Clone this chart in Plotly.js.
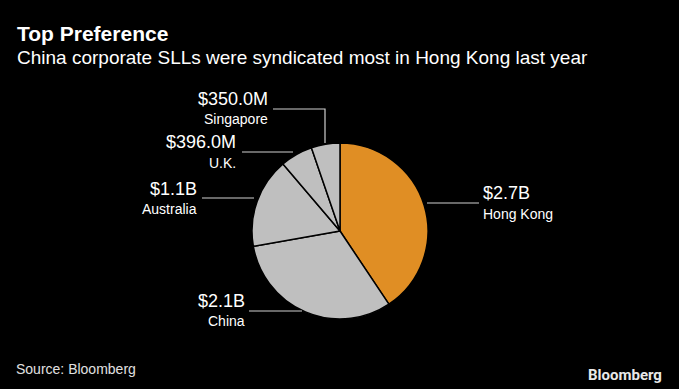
<!DOCTYPE html>
<html>
<head>
<meta charset="utf-8">
<script src="https://cdn.plot.ly/plotly-3.0.1.min.js"></script>
<style>html,body{margin:0;padding:0;background:#000;}#chart{width:679px;height:389px;}</style>
</head>
<body>
<div id="chart"></div>
<script>
const labels = ["Hong Kong", "China", "Australia", "U.K.", "Singapore"];
const values = [2.7, 2.1, 1.1, 0.396, 0.35];
const valueLabels = ["$2.7B", "$2.1B", "$1.1B", "$396.0M", "$350.0M"];
const colors = ["#E08E24", "#BFBFBF", "#BFBFBF", "#BFBFBF", "#BFBFBF"];

const W = 679, H = 389;
const FONT = "Liberation Sans, Arial, sans-serif";
const px = x => x / W;
const py = y => 1 - y / H;

const cx = 340, cy = 231, r = 88;

const labelPos = {
  "Hong Kong": {x: 481, yv: 193, yn: 214, align: "left", line: [[427,203],[479,203]]},
  "China": {x: 247, yv: 301, yn: 321, align: "right", line: [[249,311],[302,311]]},
  "Australia": {x: 199, yv: 189, yn: 209, align: "right", line: [[202,198],[254,198]]},
  "U.K.": {x: 238, yv: 142, yn: 163, align: "right", line: [[242,152],[293,152]]},
  "Singapore": {x: 270, yv: 99, yn: 119, align: "right", line: [[273,109],[325,109],[325,143]]}
};

const annotations = [];
const shapes = [];
labels.forEach((lab, i) => {
  const p = labelPos[lab];
  annotations.push({
    xref: "paper", yref: "paper", x: px(p.x), y: py(p.yv),
    xanchor: p.align, yanchor: "middle", showarrow: false,
    text: valueLabels[i], font: {family: FONT, size: 18, color: "#FFFFFF"}
  });
  annotations.push({
    xref: "paper", yref: "paper", x: px(p.x), y: py(p.yn),
    xanchor: p.align, yanchor: "middle", showarrow: false,
    text: lab, font: {family: FONT, size: 14, color: "#FFFFFF"}
  });
  const pts = p.line;
  let path = "M" + px(pts[0][0]) + "," + py(pts[0][1]);
  for (let k = 1; k < pts.length; k++) path += " L" + px(pts[k][0]) + "," + py(pts[k][1]);
  shapes.push({type: "path", xref: "paper", yref: "paper", path: path,
    line: {color: "#CFCFCF", width: 1.2}});
});

annotations.push({xref: "paper", yref: "paper", x: px(15), y: py(33), xanchor: "left", yanchor: "middle",
  showarrow: false, text: "<b>Top Preference</b>", font: {family: FONT, size: 21, color: "#FFFFFF"}});
annotations.push({xref: "paper", yref: "paper", x: px(15), y: py(57), xanchor: "left", yanchor: "middle",
  showarrow: false, text: "China corporate SLLs were syndicated most in Hong Kong last year",
  font: {family: FONT, size: 19, color: "#FFFFFF"}});
annotations.push({xref: "paper", yref: "paper", x: px(14), y: py(369), xanchor: "left", yanchor: "middle",
  showarrow: false, text: "Source: Bloomberg", font: {family: FONT, size: 14, color: "#E0E0E0"}});
annotations.push({xref: "paper", yref: "paper", x: px(664), y: py(375), xanchor: "right", yanchor: "middle",
  showarrow: false, text: "<b>Bloomberg</b>", font: {family: "Roboto, Liberation Sans, sans-serif", size: 15, color: "#E8E8E8"}});

const data = [{
  type: "pie",
  labels: labels,
  values: values,
  sort: false,
  direction: "clockwise",
  rotation: 0,
  textinfo: "none",
  hoverinfo: "none",
  marker: {colors: colors, line: {color: "#000000", width: 1.5}},
  domain: {x: [px(cx - r), px(cx + r)], y: [py(cy + r), py(cy - r)]},
  showlegend: false
}];

const layout = {
  width: W, height: H,
  margin: {l: 0, r: 0, t: 0, b: 0},
  paper_bgcolor: "#000000",
  plot_bgcolor: "#000000",
  showlegend: false,
  annotations: annotations,
  shapes: shapes
};

Plotly.newPlot("chart", data, layout, {displayModeBar: false, staticPlot: true});
</script>
</body>
</html>
